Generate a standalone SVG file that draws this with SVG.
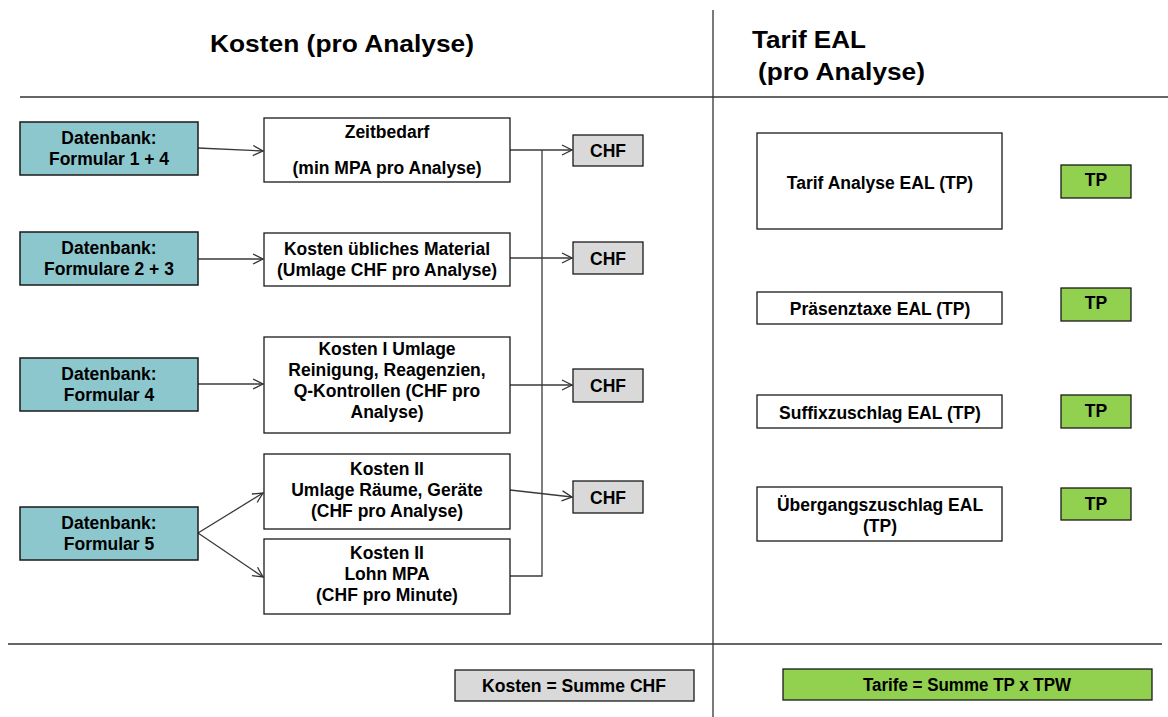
<svg xmlns="http://www.w3.org/2000/svg" width="1168" height="717" viewBox="0 0 1168 717">
<style>
text{font-family:"Liberation Sans",Arial,sans-serif;font-weight:bold;fill:#000;text-anchor:middle}
.t{font-size:17.5px}
.h{font-size:24px;text-anchor:start}
.db{fill:#8CC7CE;stroke:#1a1a1a;stroke-width:1.5}
.w{fill:#fff;stroke:#1a1a1a;stroke-width:1.3}
.g{fill:#D9D9D9;stroke:#1a1a1a;stroke-width:1.3}
.gr{fill:#92D050;stroke:#1a1a1a;stroke-width:1.3}
.c{fill:none;stroke:#3a3a3a;stroke-width:1.3}
.sep{stroke:#333;stroke-width:1.3;fill:none}
</style>
<defs>
<marker id="a" markerUnits="userSpaceOnUse" markerWidth="14" markerHeight="14" refX="11" refY="6" orient="auto">
<path d="M1,1 L11,6 L1,11" fill="none" stroke="#333" stroke-width="1.3"/>
</marker>
</defs>
<rect width="1168" height="717" fill="#fff"/>
<g id="frame">
<line class="sep" x1="713" y1="10" x2="713" y2="717"/>
<line class="sep" x1="20" y1="97" x2="1168" y2="97"/>
<line class="sep" x1="8" y1="644" x2="1162" y2="644"/>
<text class="h" x="210" y="52" textLength="264" lengthAdjust="spacingAndGlyphs">Kosten (pro Analyse)</text>
<text class="h" x="752" y="48" textLength="114" lengthAdjust="spacingAndGlyphs">Tarif EAL</text>
<text class="h" x="758" y="80" textLength="167" lengthAdjust="spacingAndGlyphs">(pro Analyse)</text>
</g>
<g id="connectors">
<line class="c" x1="198" y1="148" x2="263" y2="151" marker-end="url(#a)"/>
<line class="c" x1="198" y1="259" x2="263" y2="259" marker-end="url(#a)"/>
<line class="c" x1="198" y1="384" x2="263" y2="384" marker-end="url(#a)"/>
<line class="c" x1="198" y1="533" x2="263" y2="493" marker-end="url(#a)"/>
<line class="c" x1="198" y1="533" x2="263" y2="577" marker-end="url(#a)"/>
<line class="c" x1="510" y1="150" x2="572" y2="150" marker-end="url(#a)"/>
<line class="c" x1="510" y1="258" x2="572" y2="258" marker-end="url(#a)"/>
<line class="c" x1="510" y1="385" x2="572" y2="385" marker-end="url(#a)"/>
<line class="c" x1="510" y1="490" x2="572" y2="497" marker-end="url(#a)"/>
<polyline class="c" points="510,576 542,576 542,150"/>
</g>
<g id="db1"><rect class="db" x="20" y="122" width="178" height="53"/><text class="t" x="109" y="144">Datenbank:</text><text class="t" x="109" y="165">Formular 1 + 4</text></g>
<g id="db2"><rect class="db" x="20" y="232" width="178" height="53"/><text class="t" x="109" y="254">Datenbank:</text><text class="t" x="109" y="275">Formulare 2 + 3</text></g>
<g id="db3"><rect class="db" x="20" y="358" width="178" height="53"/><text class="t" x="109" y="380">Datenbank:</text><text class="t" x="109" y="401">Formular 4</text></g>
<g id="db4"><rect class="db" x="20" y="507" width="178" height="53"/><text class="t" x="109" y="529">Datenbank:</text><text class="t" x="109" y="550">Formular 5</text></g>
<g id="zeit"><rect class="w" x="264" y="118" width="246" height="64"/><text class="t" x="387" y="138">Zeitbedarf</text><text class="t" x="387" y="174">(min MPA pro Analyse)</text></g>
<g id="material"><rect class="w" x="264" y="233" width="246" height="53"/><text class="t" x="387" y="255">Kosten übliches Material</text><text class="t" x="387" y="276">(Umlage CHF pro Analyse)</text></g>
<g id="kosten1"><rect class="w" x="264" y="337" width="246" height="96"/><text class="t" x="387" y="355">Kosten I Umlage</text><text class="t" x="387" y="376">Reinigung, Reagenzien,</text><text class="t" x="387" y="397">Q-Kontrollen (CHF pro</text><text class="t" x="387" y="418">Analyse)</text></g>
<g id="kosten2a"><rect class="w" x="264" y="454" width="246" height="75"/><text class="t" x="387" y="475">Kosten II</text><text class="t" x="387" y="496">Umlage Räume, Geräte</text><text class="t" x="387" y="517">(CHF pro Analyse)</text></g>
<g id="kosten2b"><rect class="w" x="264" y="539" width="246" height="75"/><text class="t" x="387" y="559">Kosten II</text><text class="t" x="387" y="580">Lohn MPA</text><text class="t" x="387" y="601">(CHF pro Minute)</text></g>
<g id="chf1"><rect class="g" x="573" y="135" width="70" height="31"/><text class="t" x="608" y="157">CHF</text></g>
<g id="chf2"><rect class="g" x="573" y="242" width="70" height="32"/><text class="t" x="608" y="265">CHF</text></g>
<g id="chf3"><rect class="g" x="573" y="369" width="70" height="33"/><text class="t" x="608" y="392">CHF</text></g>
<g id="chf4"><rect class="g" x="573" y="481" width="70" height="32"/><text class="t" x="608" y="504">CHF</text></g>
<g id="tarif"><rect class="w" x="757" y="133" width="245" height="96"/><text class="t" x="880" y="189">Tarif Analyse EAL (TP)</text></g>
<g id="praesenz"><rect class="w" x="757" y="292" width="245" height="32"/><text class="t" x="880" y="315">Präsenztaxe EAL (TP)</text></g>
<g id="suffix"><rect class="w" x="757" y="395" width="245" height="33"/><text class="t" x="880" y="419">Suffixzuschlag EAL (TP)</text></g>
<g id="uebergang"><rect class="w" x="757" y="487" width="245" height="54"/><text class="t" x="880" y="511">Übergangszuschlag EAL</text><text class="t" x="880" y="532">(TP)</text></g>
<g id="tp1"><rect class="gr" x="1061" y="165" width="70" height="33"/><text class="t" x="1096" y="186">TP</text></g>
<g id="tp2"><rect class="gr" x="1061" y="288" width="70" height="33"/><text class="t" x="1096" y="309">TP</text></g>
<g id="tp3"><rect class="gr" x="1061" y="395" width="70" height="33"/><text class="t" x="1096" y="417">TP</text></g>
<g id="tp4"><rect class="gr" x="1061" y="488" width="70" height="32"/><text class="t" x="1096" y="510">TP</text></g>
<g id="kostensumme"><rect class="g" x="455" y="670" width="239" height="31"/><text class="t" x="574" y="692" textLength="184" lengthAdjust="spacingAndGlyphs">Kosten = Summe CHF</text></g>
<g id="tarifsumme"><rect class="gr" x="783" y="669" width="369" height="31"/><text class="t" x="967" y="691" textLength="208" lengthAdjust="spacingAndGlyphs">Tarife = Summe TP x TPW</text></g>
</svg>
